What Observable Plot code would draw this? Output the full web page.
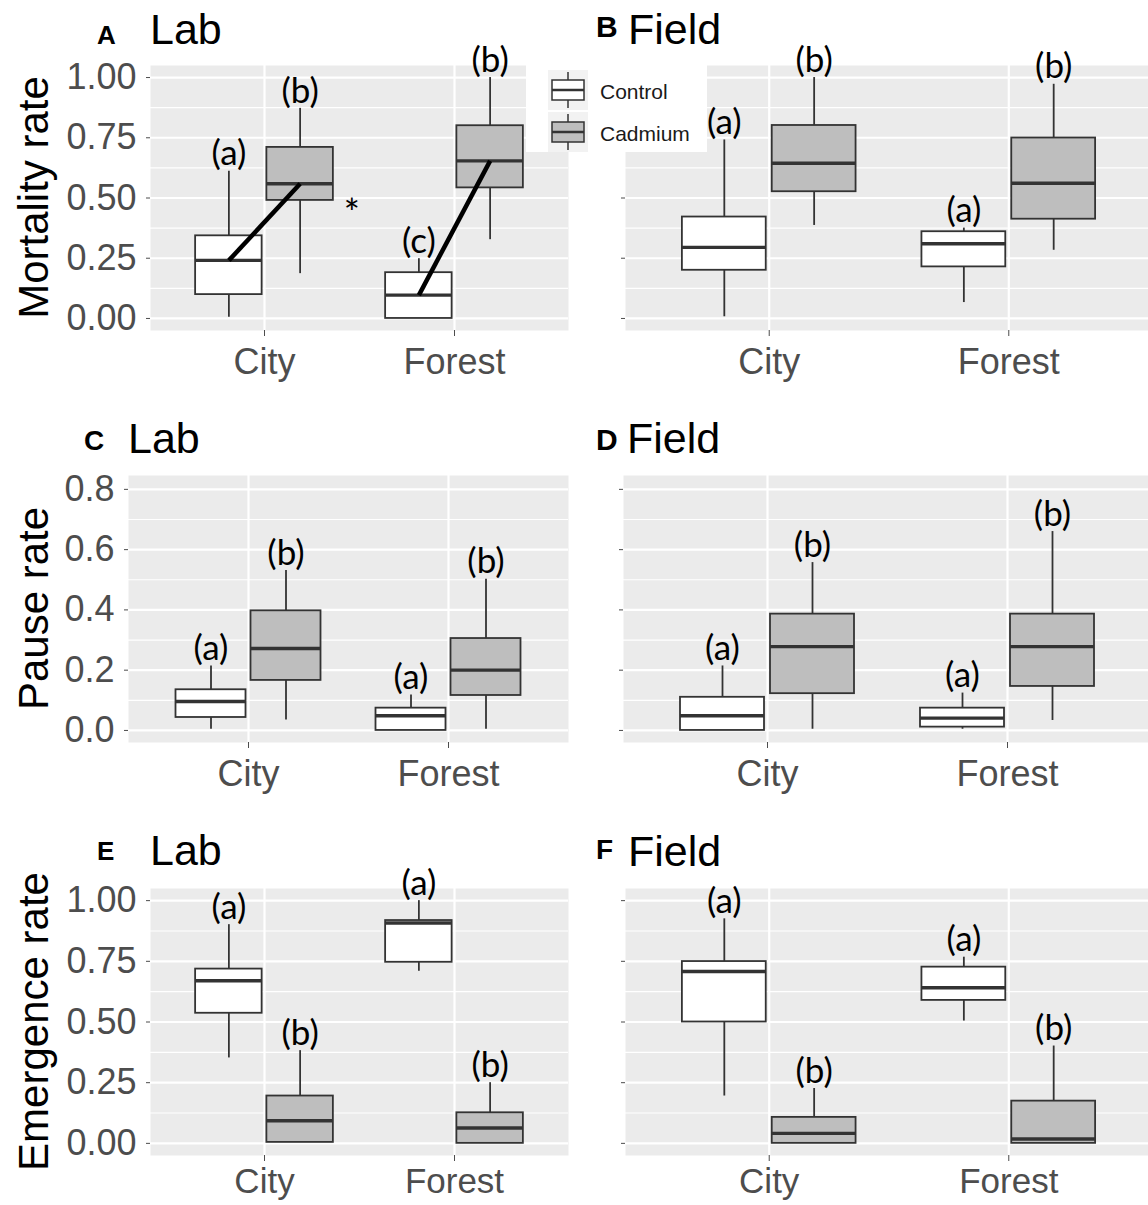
<!DOCTYPE html>
<html>
<head>
<meta charset="utf-8">
<script src="https://cdn.jsdelivr.net/npm/d3@7"></script>
<script src="https://cdn.jsdelivr.net/npm/@observablehq/plot@0.6"></script>
<style>
  body { margin: 0; background: #fff; }
  #fig { position: relative; width: 1148px; height: 1205px; overflow: hidden; background: #fff;
         font-family: "Liberation Sans", Arial, sans-serif; }
  .panel { position: absolute; }
  #overlay { position: absolute; left: 0; top: 0; pointer-events: none; }
</style>
</head>
<body>
<div id="fig"></div>
<script>
// ---------------- DATA ----------------
const sites = ["City", "Forest"];
const treatments = ["Control", "Cadmium"];
const groupSite = ["City", "City", "Forest", "Forest"];
const groupTreatment = ["Control", "Cadmium", "Control", "Cadmium"];

// box statistics per group: [lower whisker, Q1, median, Q3, upper whisker]
const mortalityLab = [
  [0.005, 0.099, 0.241, 0.343, 0.611],
  [0.186, 0.490, 0.559, 0.710, 0.872],
  [0.000, 0.000, 0.097, 0.190, 0.248],
  [0.327, 0.542, 0.654, 0.800, 1.000]
];
const mortalityField = [
  [0.007, 0.200, 0.295, 0.421, 0.741],
  [0.386, 0.526, 0.644, 0.801, 1.000],
  [0.066, 0.214, 0.310, 0.360, 0.375],
  [0.283, 0.412, 0.561, 0.749, 0.972]
];
const pauseLab = [
  [0.004, 0.043, 0.096, 0.135, 0.214],
  [0.035, 0.166, 0.272, 0.397, 0.531],
  [0.000, 0.000, 0.049, 0.074, 0.118],
  [0.004, 0.116, 0.200, 0.305, 0.502]
];
const pauseField = [
  [0.000, 0.000, 0.049, 0.110, 0.214],
  [0.004, 0.122, 0.278, 0.386, 0.557],
  [0.004, 0.011, 0.041, 0.074, 0.124],
  [0.033, 0.146, 0.278, 0.386, 0.660]
];
const emergenceLab = [
  [0.352, 0.536, 0.670, 0.718, 0.901],
  [0.004, 0.004, 0.093, 0.195, 0.382],
  [0.709, 0.746, 0.908, 0.918, 1.000],
  [0.000, 0.000, 0.063, 0.126, 0.250]
];
const emergenceField = [
  [0.195, 0.500, 0.708, 0.749, 0.925],
  [0.000, 0.000, 0.041, 0.107, 0.226],
  [0.504, 0.589, 0.641, 0.726, 0.767],
  [0.000, 0.000, 0.018, 0.174, 0.401]
];

const mortalityLabLetters = ["(a)", "(b)", "(c)", "(b)"];
const standardLetters = ["(a)", "(b)", "(a)", "(b)"];

const ticksUnit = [0, 0.25, 0.5, 0.75, 1];
const minorUnit = [0.125, 0.375, 0.625, 0.875];
const ticksPause = [0, 0.2, 0.4, 0.6, 0.8];
const minorPause = [0.1, 0.3, 0.5, 0.7];

const responses = ["Mortality rate", "Pause rate", "Emergence rate"];
const settings = ["Lab", "Field"];
const panelTags = ["A", "B", "C", "D", "E", "F"];
const asteriskNote = [{site: 1.46, value: 0.43, label: "*"}]; // interaction marker, panel A

// ---------------- LAYOUT ----------------
const panels = [
  {tag: "A", setting: "Lab",   stats: mortalityLab,   letters: mortalityLabLetters, ylabel: "Mortality rate", ylabelSize: 42,
   L: 150, R: 568, T: 65, B: 330, yDomain: [-0.05, 1.05], ticks: ticksUnit, minor: minorUnit, fmt: ".2f", showY: true,
   tagX: 97, tagSize: 26, tagY: 44, titleX: 150, titleY: 44, interaction: true, xPad: 12, xSize: 36},
  {tag: "B", setting: "Field", stats: mortalityField, letters: standardLetters,
   L: 625, R: 1152, T: 65, B: 330, yDomain: [-0.05, 1.05], ticks: ticksUnit, minor: minorUnit, fmt: ".2f", showY: false,
   tagX: 596, tagSize: 30, tagY: 37, titleX: 628, titleY: 44, xPad: 12, xSize: 36},
  {tag: "C", setting: "Lab",   stats: pauseLab,       letters: standardLetters, ylabel: "Pause rate", ylabelSize: 42,
   L: 128, R: 568, T: 475, B: 742, yDomain: [-0.04, 0.846], ticks: ticksPause, minor: minorPause, fmt: ".1f", showY: true,
   tagX: 84, tagSize: 28, tagY: 450, titleX: 128, titleY: 453, xPad: 12, xSize: 36},
  {tag: "D", setting: "Field", stats: pauseField,     letters: standardLetters,
   L: 623, R: 1151, T: 475, B: 742, yDomain: [-0.04, 0.846], ticks: ticksPause, minor: minorPause, fmt: ".1f", showY: false,
   tagX: 596, tagSize: 30, tagY: 450, titleX: 627, titleY: 453, xPad: 12, xSize: 36},
  {tag: "E", setting: "Lab",   stats: emergenceLab,   letters: standardLetters, ylabel: "Emergence rate", ylabelSize: 42,
   L: 150, R: 568, T: 888, B: 1155, yDomain: [-0.05, 1.05], ticks: ticksUnit, minor: minorUnit, fmt: ".2f", showY: true,
   tagX: 97, tagSize: 26, tagY: 860, titleX: 150, titleY: 865, xPad: 7, xSize: 35},
  {tag: "F", setting: "Field", stats: emergenceField, letters: standardLetters,
   L: 625, R: 1152, T: 888, B: 1155, yDomain: [-0.05, 1.05], ticks: ticksUnit, minor: minorUnit, fmt: ".2f", showY: false,
   tagX: 596, tagSize: 28, tagY: 859, titleX: 628, titleY: 866, xPad: 7, xSize: 35}
];

const DODGE = 0.1875, HALF = 0.175;
const BOX_STROKE = "#333333";
const CAD_FILL = "#BEBEBE";
const LETTER_FONT = "Lato, 'Open Sans', sans-serif";
const fig = document.getElementById("fig");

for (const p of panels) {
  const rows = p.stats.map((s, i) => ({
    site: groupSite[i],
    treatment: groupTreatment[i],
    pos: sites.indexOf(groupSite[i]) + 1 + (groupTreatment[i] === "Control" ? -DODGE : DODGE),
    lo: s[0], q1: s[1], med: s[2], q3: s[3], hi: s[4],
    letter: p.letters[i]
  }));
  const links = sites.map(site => {
    const c = rows.find(r => r.site === site && r.treatment === "Control");
    const d = rows.find(r => r.site === site && r.treatment === "Cadmium");
    return {x1: c.pos, y1: c.med, x2: d.pos, y2: d.med};
  });

  const mL = p.showY ? p.L : 40;
  const mT = 70, mB = 50, mR = 5;
  const fw = p.R - p.L, fh = p.B - p.T;

  const marks = [
    Plot.frame({fill: "#EBEBEB", stroke: "none"}),
    Plot.ruleY(p.minor, {stroke: "white", strokeWidth: 1.2}),
    Plot.ruleY(p.ticks, {stroke: "white", strokeWidth: 2.2}),
    Plot.ruleX([1, 2], {stroke: "white", strokeWidth: 2.2}),
    Plot.axisY({ticks: p.ticks, tickSize: 4, tickPadding: 10, fontSize: 36, color: "#4D4D4D",
                tickFormat: p.showY ? d3.format(p.fmt) : () => "", label: null}),
    Plot.axisX({ticks: [1, 2], tickSize: 6, tickPadding: p.xPad, fontSize: p.xSize, color: "#4D4D4D",
                tickFormat: d => sites[d - 1], label: null}),
    Plot.ruleX(rows, {x: "pos", y1: "lo", y2: "q1", stroke: BOX_STROKE, strokeWidth: 1.8}),
    Plot.ruleX(rows, {x: "pos", y1: "q3", y2: "hi", stroke: BOX_STROKE, strokeWidth: 1.8}),
    Plot.rect(rows, {x1: d => d.pos - HALF, x2: d => d.pos + HALF, y1: "q1", y2: "q3",
                     fill: d => d.treatment === "Control" ? "white" : CAD_FILL,
                     stroke: BOX_STROKE, strokeWidth: 1.8}),
    Plot.ruleY(rows, {x1: d => d.pos - HALF, x2: d => d.pos + HALF, y: "med", stroke: BOX_STROKE, strokeWidth: 3.4})
  ];
  if (p.interaction) {
    marks.push(Plot.link(links, {x1: "x1", y1: "y1", x2: "x2", y2: "y2", stroke: "black", strokeWidth: 4.5}));
    marks.push(Plot.text(asteriskNote, {x: "site", y: "value", text: "label", fontSize: 38,
                                        fontFamily: LETTER_FONT, fill: "black"}));
  }
  marks.push(Plot.text(rows, {x: "pos", y: "hi", text: "letter", dy: -17, lineAnchor: "middle",
                              fontSize: 35, fontFamily: LETTER_FONT, fill: "black"}));

  const chart = Plot.plot({
    width: mL + fw + mR,
    height: mT + fh + mB,
    marginLeft: mL, marginRight: mR, marginTop: mT, marginBottom: mB,
    x: {type: "linear", domain: [0.4, 2.6]},
    y: {domain: p.yDomain},
    style: {background: "transparent", overflow: "visible",
            fontFamily: "'Liberation Sans', Arial, sans-serif"},
    marks
  });
  chart.classList.add("panel");
  chart.style.left = (p.L - mL) + "px";
  chart.style.top = (p.T - mT) + "px";
  chart.style.maxWidth = "none";
  fig.appendChild(chart);
}

// ---------------- TEXT OVERLAY: titles, axis titles, legend ----------------
const svg = d3.select(fig).append("svg").attr("id", "overlay")
  .attr("width", 1148).attr("height", 1205)
  .style("font-family", "'Liberation Sans', Arial, sans-serif");

for (const p of panels) {
  svg.append("text").attr("x", p.tagX).attr("y", p.tagY)
    .attr("font-size", p.tagSize).attr("font-weight", "bold").attr("fill", "#000").text(p.tag);
  svg.append("text").attr("x", p.titleX).attr("y", p.titleY)
    .attr("font-size", 43).attr("fill", "#000").text(p.setting);
  if (p.ylabel) {
    const cy = (p.T + p.B) / 2;
    svg.append("text").attr("transform", `translate(33,${cy}) rotate(-90)`)
      .attr("text-anchor", "middle").attr("dominant-baseline", "central")
      .attr("font-size", p.ylabelSize).attr("fill", "#000").text(p.ylabel);
  }
}

// legend (white box overlapping panels A/B)
const lg = svg.append("g");
lg.append("rect").attr("x", 526).attr("y", 62).attr("width", 181).attr("height", 90).attr("fill", "white");
treatments.forEach((t, i) => {
  const y0 = 70 + i * 42;
  lg.append("rect").attr("x", 548).attr("y", y0).attr("width", 40).attr("height", 40).attr("fill", "#F2F2F2");
  lg.append("line").attr("x1", 568).attr("x2", 568).attr("y1", y0 + 2).attr("y2", y0 + 38)
    .attr("stroke", BOX_STROKE).attr("stroke-width", 1.5);
  lg.append("rect").attr("x", 552).attr("y", y0 + 10).attr("width", 32).attr("height", 20)
    .attr("fill", t === "Control" ? "white" : CAD_FILL).attr("stroke", BOX_STROKE).attr("stroke-width", 1.5);
  lg.append("line").attr("x1", 552).attr("x2", 584).attr("y1", y0 + 20).attr("y2", y0 + 20)
    .attr("stroke", BOX_STROKE).attr("stroke-width", 2.5);
  lg.append("text").attr("x", 600).attr("y", y0 + 29).attr("font-size", 21).attr("fill", "#1A1A1A").text(t);
});
</script>
</body>
</html>
